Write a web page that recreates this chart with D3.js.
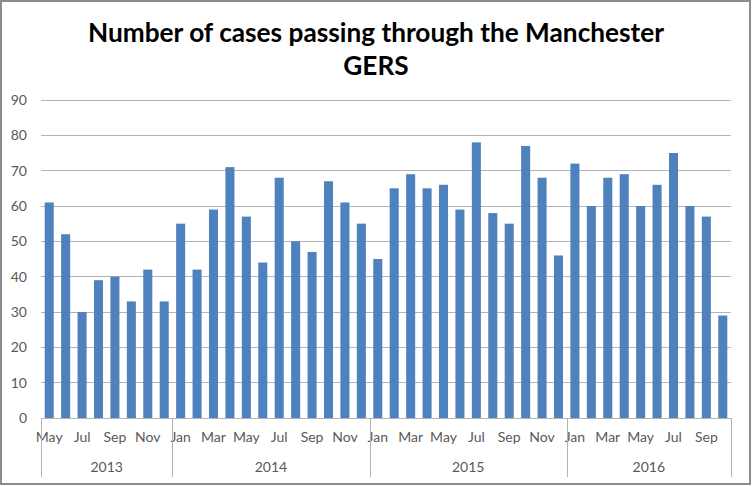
<!DOCTYPE html>
<html>
<head>
<meta charset="utf-8">
<script src="https://cdn.jsdelivr.net/npm/d3@7"></script>
<style>
  html, body { margin: 0; padding: 0; background: #fff; }
  svg { display: block; }
</style>
</head>
<body>
<svg id="chart" width="752" height="486"></svg>
<script>
const titleLines = ["Number of cases passing through the Manchester", "GERS"];
const years = ["2013", "2014", "2015", "2016"];
const monthsByYear = [
  ["May","Jun","Jul","Aug","Sep","Oct","Nov","Dec"],
  ["Jan","Feb","Mar","Apr","May","Jun","Jul","Aug","Sep","Oct","Nov","Dec"],
  ["Jan","Feb","Mar","Apr","May","Jun","Jul","Aug","Sep","Oct","Nov","Dec"],
  ["Jan","Feb","Mar","Apr","May","Jun","Jul","Aug","Sep","Oct"]
];
const values2013 = [61, 52, 30, 39, 40, 33, 42, 33];
const values2014 = [55, 42, 59, 71, 57, 44, 68, 50, 47, 67, 61, 55];
const values2015 = [45, 65, 69, 65, 66, 59, 78, 58, 55, 77, 68, 46];
const values2016 = [72, 60, 68, 69, 60, 66, 75, 60, 57, 29];
const yTicks = [0, 10, 20, 30, 40, 50, 60, 70, 80, 90];

const valuesByYear = [values2013, values2014, values2015, values2016];
const data = [];
years.forEach((y, yi) => {
  monthsByYear[yi].forEach((m, mi) => {
    data.push({ key: y + "-" + m, year: y, month: m, value: valuesByYear[yi][mi] });
  });
});

const svg = d3.select("#chart");
const W = 752, H = 486;
const margin = { left: 41, right: 21, top: 100, bottom: 68 };
const font = "Lato, 'Open Sans', sans-serif";

// outer border
svg.append("rect")
  .attr("x", 1).attr("y", 1).attr("width", W - 3).attr("height", H - 3)
  .attr("fill", "#fff").attr("stroke", "#8c8c8c").attr("stroke-width", 2);

const x = d3.scaleBand()
  .domain(data.map(d => d.key))
  .range([margin.left, W - margin.right])
  .paddingInner(0.45).paddingOuter(0.225);

const y = d3.scaleLinear().domain([0, 90]).range([H - margin.bottom, margin.top]);

// gridlines
svg.append("g")
  .selectAll("line").data(yTicks.filter(t => t > 0)).join("line")
  .attr("x1", margin.left).attr("x2", W - margin.right)
  .attr("y1", d => y(d)).attr("y2", d => y(d))
  .attr("stroke", "#b4b4b4").attr("stroke-width", 1)
  .attr("shape-rendering", "crispEdges");

// y axis labels
const yAxis = d3.axisLeft(y).tickValues(yTicks).tickSize(0).tickPadding(14);
const gy = svg.append("g").attr("transform", `translate(${margin.left},0)`).call(yAxis);
gy.select(".domain").remove();
gy.selectAll("text").attr("font-family", font).attr("font-size", 14).attr("fill", "#595959");

// bars
svg.append("g")
  .selectAll("rect").data(data).join("rect")
  .attr("x", d => x(d.key)).attr("width", x.bandwidth())
  .attr("y", d => y(d.value)).attr("height", d => y(0) - y(d.value))
  .attr("fill", "#4f81bd");

// x axis baseline
const y0 = y(0);
svg.append("line")
  .attr("x1", margin.left).attr("x2", W - margin.right)
  .attr("y1", y0).attr("y2", y0)
  .attr("stroke", "#b4b4b4").attr("shape-rendering", "crispEdges");

// month labels (every other)
const step = x.step();
svg.append("g")
  .selectAll("text").data(data.filter((d, i) => i % 2 === 0)).join("text")
  .attr("x", d => x(d.key) + x.bandwidth() / 2)
  .attr("y", y0 + 24)
  .attr("text-anchor", "middle")
  .attr("font-family", font).attr("font-size", 14).attr("fill", "#595959")
  .text(d => d.month);

// year groups
const groups = years.map(yr => {
  const items = data.filter(d => d.year === yr);
  const x0 = x(items[0].key) - x.paddingInner() * step / 2 - (items[0] === data[0] ? (x.paddingOuter() - x.paddingInner() / 2) * step : 0);
  const lastItem = items[items.length - 1];
  const x1 = x(lastItem.key) + x.bandwidth() + x.paddingInner() * step / 2 + (lastItem === data[data.length - 1] ? (x.paddingOuter() - x.paddingInner() / 2) * step : 0);
  return { year: yr, x0, x1 };
});

const bounds = [groups[0].x0].concat(groups.map(g => g.x1));
svg.append("g")
  .selectAll("line").data(bounds).join("line")
  .attr("x1", d => Math.round(d) + 0.5).attr("x2", d => Math.round(d) + 0.5)
  .attr("y1", y0).attr("y2", y0 + 59)
  .attr("stroke", "#b4b4b4");

svg.append("g")
  .selectAll("text").data(groups).join("text")
  .attr("x", d => (d.x0 + d.x1) / 2)
  .attr("y", y0 + 54)
  .attr("text-anchor", "middle")
  .attr("font-family", font).attr("font-size", 14).attr("fill", "#595959")
  .text(d => d.year);

// title
const title = svg.append("text")
  .attr("text-anchor", "middle")
  .attr("font-family", font).attr("font-weight", "bold").attr("fill", "#000")
  .attr("font-size", 25);
title.selectAll("tspan").data(titleLines).join("tspan")
  .attr("x", 376).attr("y", (d, i) => 42 + i * 33)
  .text(d => d);
// fit first title line to reference width
const firstLen = title.select("tspan").node().getComputedTextLength();
const fs = 25 * 576 / firstLen;
title.attr("font-size", fs.toFixed(2));
</script>
</body>
</html>
